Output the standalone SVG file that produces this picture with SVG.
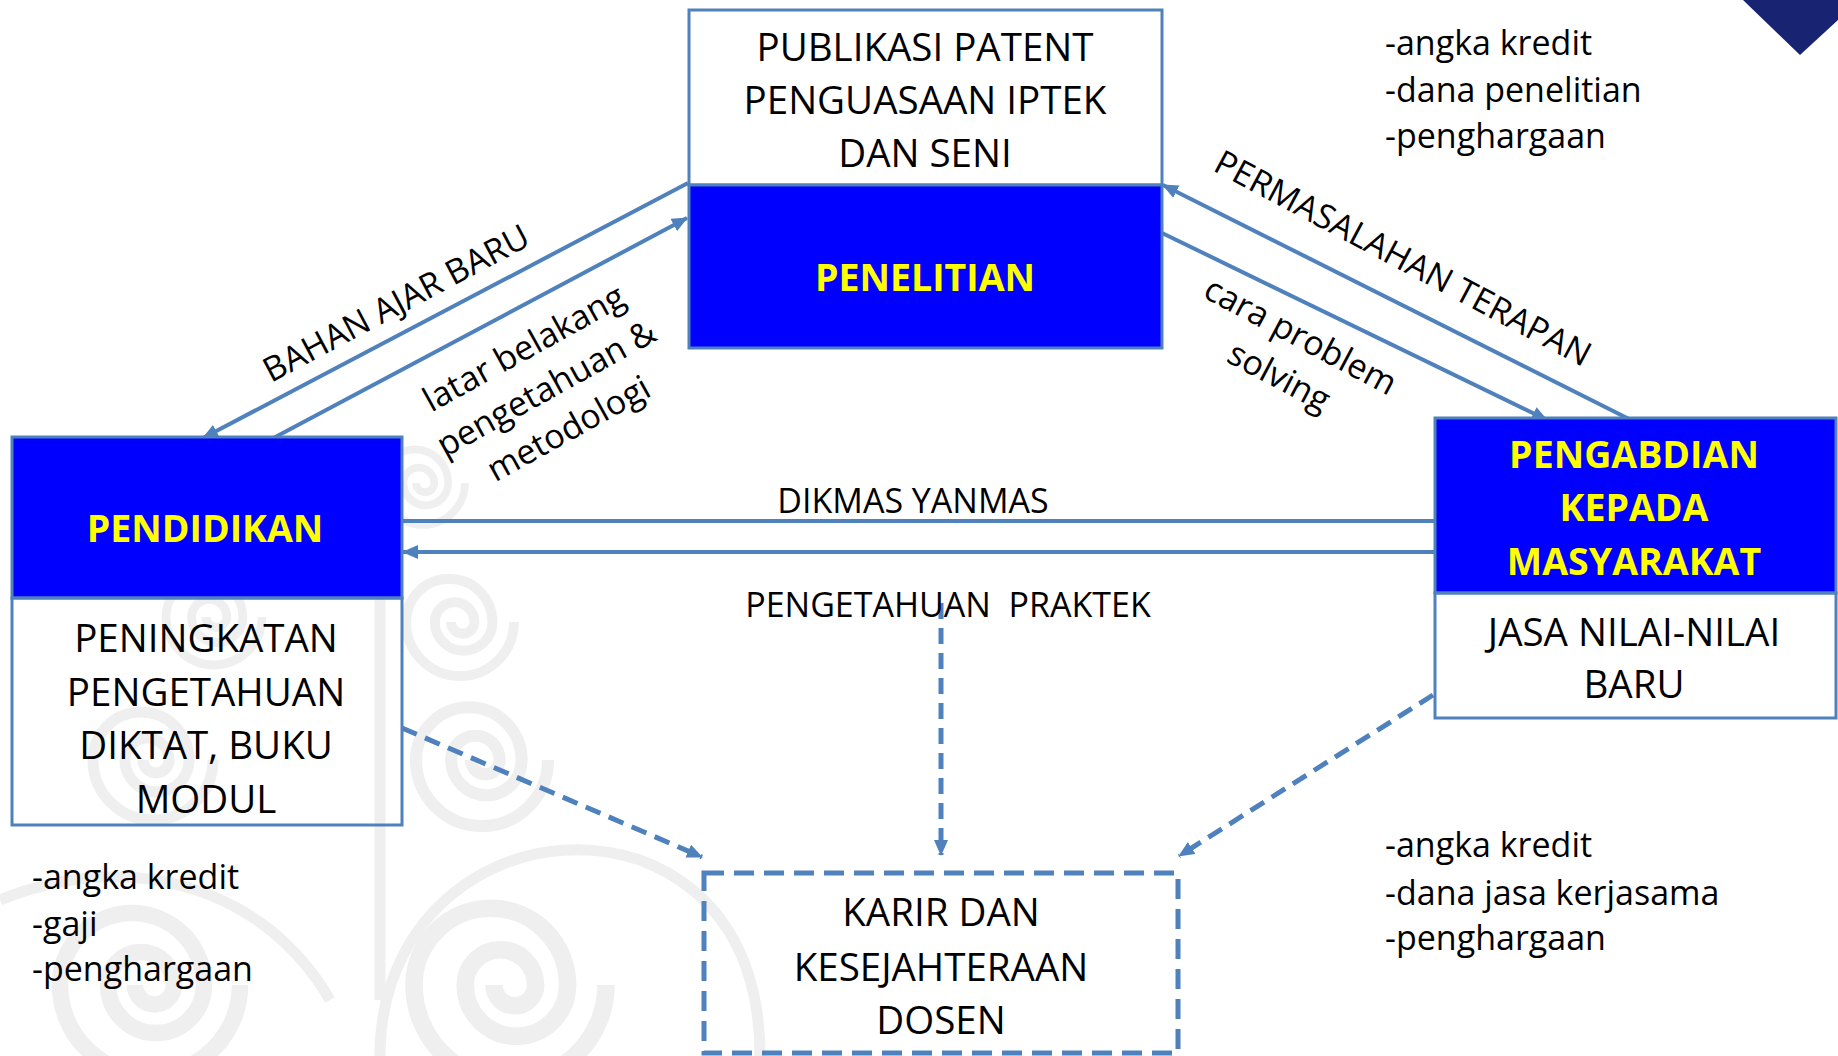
<svg xmlns="http://www.w3.org/2000/svg" width="1838" height="1056" viewBox="0 0 1838 1056">
<style>
.box{fill:none;stroke:#4f81bd;stroke-width:3}
.blue{fill:#0000ff;stroke:#4f81bd;stroke-width:3}
.t{font-family:"Open Sans","Liberation Sans",sans-serif;font-size:38.5px;fill:#000;text-anchor:middle}
.b{font-family:"Open Sans","Liberation Sans",sans-serif;font-size:37.5px;font-weight:bold;fill:#ffff00;text-anchor:middle}
.s{font-family:"Open Sans","Liberation Sans",sans-serif;font-size:34px;fill:#000}
.sc{font-family:"Open Sans","Liberation Sans",sans-serif;font-size:34px;fill:#000;text-anchor:middle}
.ln{fill:none;stroke:#4f81bd;stroke-width:4}
.dl{fill:none;stroke:#4f81bd;stroke-width:5;stroke-dasharray:16 9}
.sw{fill:none;stroke:#efefef;stroke-width:11}
</style>
<defs>
<marker id="ah" viewBox="0 0 16 14" refX="15" refY="7" markerWidth="16" markerHeight="14" markerUnits="userSpaceOnUse" orient="auto">
<path d="M0,0 L16,7 L0,14 z" fill="#4f81bd"/>
</marker>
<path id="spiral" d="M60,0 A60,60 0 0 1 -60,0 A48,48 0 0 1 36,0 A32,32 0 0 1 -28,0 A22,22 0 0 1 16,0 A13,13 0 0 1 -10,0"/>
</defs>
<rect x="0" y="0" width="1838" height="1056" fill="#ffffff"/>
<g id="watermark" class="sw">
<use href="#spiral" transform="translate(460,622) scale(0.9)"/>
<use href="#spiral" transform="translate(423,483) scale(0.7)"/>
<use href="#spiral" transform="translate(482,760) scale(1.1)"/>
<use href="#spiral" transform="translate(214,617) scale(0.8)"/>
<use href="#spiral" transform="translate(153,760) scale(1.0)"/>
<use href="#spiral" transform="translate(510,985) scale(1.6)"/>
<use href="#spiral" transform="translate(150,985) scale(1.5)"/>
<path d="M380,1056 C380,900 520,820 640,860 C720,890 760,960 760,1056"/>
<path d="M0,900 C120,850 260,880 330,1000"/>
<path d="M380,560 L380,1000"/>
</g>
<polygon id="corner" points="1743,0 1800,55 1838,20 1838,0" fill="#182371"/>
<g id="connectors">
<line class="ln" x1="688" y1="183" x2="203" y2="438" marker-end="url(#ah)"/>
<line class="ln" x1="266" y1="442" x2="687" y2="218" marker-end="url(#ah)"/>
<line class="ln" x1="1635" y1="422" x2="1163" y2="185" marker-end="url(#ah)"/>
<line class="ln" x1="1162" y1="233" x2="1547" y2="420" marker-end="url(#ah)"/>
<line class="ln" x1="402" y1="521" x2="1435" y2="521"/>
<line class="ln" x1="1435" y1="552" x2="403" y2="552" marker-end="url(#ah)"/>
<line class="dl" x1="941" y1="603" x2="941" y2="855" marker-end="url(#ah)"/>
<line class="dl" x1="402" y1="728" x2="702" y2="857" marker-end="url(#ah)"/>
<line class="dl" x1="1433" y1="695" x2="1179" y2="856" marker-end="url(#ah)"/>
<text class="s" text-anchor="middle" transform="translate(396,303) rotate(-28)" y="12">BAHAN AJAR BARU</text>
<g transform="translate(546,388) rotate(-29)">
<text class="sc" y="-34">latar belakang</text>
<text class="sc" y="12">pengetahuan &amp;</text>
<text class="sc" y="58">metodologi</text>
</g>
<text class="sc" transform="translate(1403,258) rotate(28)" y="12">PERMASALAHAN TERAPAN</text>
<g transform="translate(1290,356) rotate(28)">
<text class="sc" y="-11">cara problem</text>
<text class="sc" y="35">solving</text>
</g>
<text class="sc" x="913" y="513">DIKMAS YANMAS</text>
<text class="sc" x="948" y="617" xml:space="preserve">PENGETAHUAN  PRAKTEK</text>
</g>
<g id="penelitian">
<rect class="box" x="689" y="10" width="473" height="175"/>
<rect class="blue" x="689" y="185" width="473" height="163"/>
<text class="t" x="925" y="61">PUBLIKASI PATENT</text>
<text class="t" x="925" y="114">PENGUASAAN IPTEK</text>
<text class="t" x="925" y="167">DAN SENI</text>
<text class="b" x="925" y="291">PENELITIAN</text>
</g>
<g id="pendidikan">
<rect class="blue" x="12" y="437" width="390" height="161"/>
<rect class="box" x="12" y="598" width="390" height="227"/>
<text class="b" x="205" y="542">PENDIDIKAN</text>
<text class="t" x="206" y="652">PENINGKATAN</text>
<text class="t" x="206" y="706">PENGETAHUAN</text>
<text class="t" x="206" y="759">DIKTAT, BUKU</text>
<text class="t" x="206" y="813">MODUL</text>
</g>
<g id="pengabdian">
<rect class="blue" x="1435" y="418" width="401" height="175"/>
<rect class="box" x="1435" y="593" width="401" height="125"/>
<text class="b" x="1634" y="468">PENGABDIAN</text>
<text class="b" x="1634" y="521">KEPADA</text>
<text class="b" x="1634" y="575">MASYARAKAT</text>
<text class="t" x="1634" y="646">JASA NILAI-NILAI</text>
<text class="t" x="1634" y="698">BARU</text>
</g>
<g id="karir">
<rect x="704" y="873" width="474" height="180" fill="none" stroke="#4f81bd" stroke-width="5" stroke-dasharray="20 10"/>
<text class="t" x="941" y="926">KARIR DAN</text>
<text class="t" x="941" y="981">KESEJAHTERAAN</text>
<text class="t" x="941" y="1034">DOSEN</text>
</g>
<g id="notes-top-right">
<text class="s" x="1385" y="55">-angka kredit</text>
<text class="s" x="1385" y="102">-dana penelitian</text>
<text class="s" x="1385" y="148">-penghargaan</text>
</g>
<g id="notes-bottom-right">
<text class="s" x="1385" y="857">-angka kredit</text>
<text class="s" x="1385" y="905">-dana jasa kerjasama</text>
<text class="s" x="1385" y="950">-penghargaan</text>
</g>
<g id="notes-bottom-left">
<text class="s" x="32" y="889">-angka kredit</text>
<text class="s" x="32" y="936">-gaji</text>
<text class="s" x="32" y="981">-penghargaan</text>
</g>
</svg>
